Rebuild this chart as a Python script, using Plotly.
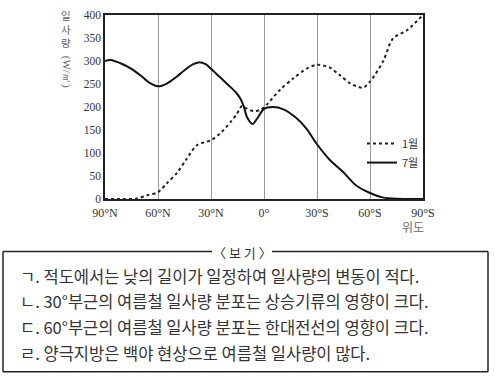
import plotly.graph_objects as go

# ---- data ----
lat_july = [90, 87, 80, 75, 70, 65, 60, 55, 50, 45, 40, 37, 33, 30, 25, 20, 16, 13.5, 11.5, 9.5, 6.5, 4, 0,
            -5, -11, -18, -24, -30, -37, -45, -52, -60, -67, -75, -90]
july = [300, 302, 293, 283, 269, 253, 245, 251, 264, 280, 293, 297, 293, 283, 265, 247, 232, 219, 202, 177, 163, 174, 196,
        200, 195, 177, 153, 119, 86, 58, 30, 13, 3.5, 0.5, 0]

lat_jan = [90, 80, 72, 66, 60, 55, 49, 44, 38, 30, 25, 19, 15.5, 12.5, 10, 6, 2, -1.5, -9, -16.5, -24, -30,
           -37, -43, -49, -56, -60, -67.5, -73, -81, -90]
jan = [0, 0, 1, 8, 15, 34, 58, 86, 117, 128, 142, 167, 184, 202, 197, 191, 194, 205, 237, 262, 283, 292,
       286, 269, 251, 242, 255, 300, 349, 367, 400]

x_tickvals = [90, 60, 30, 0, -30, -60, -90]
x_ticktext = ["90°N", "60°N", "30°N", "0°", "30°S", "60°S", "90°S"]
y_tickvals = [0, 50, 100, 150, 200, 250, 300, 350, 400]

y_title_main = "일<br>사<br>량"
y_title_unit = "(W/㎡)"
x_title = "위도"
bogi_title = "〈 보 기 〉"
bogi_items = [
    "ㄱ. 적도에서는 낮의 길이가 일정하여 일사량의 변동이 적다.",
    "ㄴ. 30°부근의 여름철 일사량 분포는 상승기류의 영향이 크다.",
    "ㄷ. 60°부근의 여름철 일사량 분포는 한대전선의 영향이 크다.",
    "ㄹ. 양극지방은 백야 현상으로 여름철 일사량이 많다.",
]

# ---- layout geometry (window pixels) ----
W, H = 495, 391
L, R, T, B = 105, 423, 9.5, 199
def px(x):
    return (x - L) / (R - L)
def py(y):
    return (B - y) / (B - T)

KR = "Noto Sans CJK KR"
SERIF = "Liberation Serif"

fig = go.Figure()
fig.add_trace(go.Scatter(x=lat_jan, y=jan, mode="lines", name="1월",
                         line=dict(color="#222", width=2, dash="dot", shape="spline", smoothing=0.8)))
fig.add_trace(go.Scatter(x=lat_july, y=july, mode="lines", name="7월",
                         line=dict(color="#111", width=2, shape="spline", smoothing=0.8)))

fig.update_xaxes(range=[90, -90], tickvals=x_tickvals, ticktext=x_ticktext,
                 showgrid=True, gridcolor="#999", gridwidth=1, zeroline=False,
                 showline=True, mirror=True, linecolor="#222", linewidth=1.5,
                 ticks="", ticklabelstandoff=2,
                 tickfont=dict(family=SERIF, size=12, color="#333"))
fig.update_yaxes(range=[0, 400], tickvals=y_tickvals, showgrid=False, zeroline=False,
                 showline=True, mirror=True, linecolor="#222", linewidth=1.5,
                 ticks="", tickfont=dict(family=SERIF, size=11.5, color="#333"))

shapes = []
box_line = dict(color="#222", width=1.5)
for (x0, y0, x1, y1) in [(3, 253, 3, 377), (488, 253, 488, 377), (3, 377, 488, 377),
                         (3, 253, 212, 253), (272, 253, 488, 253)]:
    shapes.append(dict(type="line", xref="paper", yref="paper", x0=px(x0), x1=px(x1),
                       y0=py(y0), y1=py(y1), line=box_line))

annotations = []
annotations.append(dict(text=y_title_main, x=px(66), y=py(24), xref="paper", yref="paper",
                        xanchor="center", yanchor="middle", showarrow=False,
                        font=dict(family=KR, size=10.5, color="#666")))
annotations.append(dict(text=y_title_unit, x=px(66), y=py(68), xref="paper", yref="paper",
                        xanchor="center", yanchor="middle", showarrow=False, textangle=90,
                        font=dict(family=SERIF, size=11, color="#666")))
annotations.append(dict(text=x_title, x=px(413), y=py(227), xref="paper", yref="paper",
                        xanchor="center", yanchor="middle", showarrow=False,
                        font=dict(family=KR, size=12, color="#666")))
annotations.append(dict(text=bogi_title, x=px(242), y=py(254), xref="paper", yref="paper",
                        xanchor="center", yanchor="middle", showarrow=False,
                        font=dict(family=KR, size=13, color="#333")))
for i, t in enumerate(bogi_items):
    annotations.append(dict(text=t, x=px(18), y=py(278 + i * 26.5), xref="paper", yref="paper",
                            xanchor="left", yanchor="middle", showarrow=False,
                            font=dict(family=KR, size=16.5, color="#333")))

fig.update_layout(
    width=W, height=H, autosize=False,
    margin=dict(l=L, r=W - R, t=T, b=H - B),
    paper_bgcolor="white", plot_bgcolor="white",
    shapes=shapes, annotations=annotations,
    legend=dict(x=px(362), y=py(127), xanchor="left", yanchor="top",
                bgcolor="rgba(0,0,0,0)", font=dict(family=KR, size=11, color="#333"),
                itemwidth=30, tracegroupgap=0),
    showlegend=True,
)

fig.write_html("out.html", config={"displayModeBar": False},
               post_script="document.body.style.margin='0';")
